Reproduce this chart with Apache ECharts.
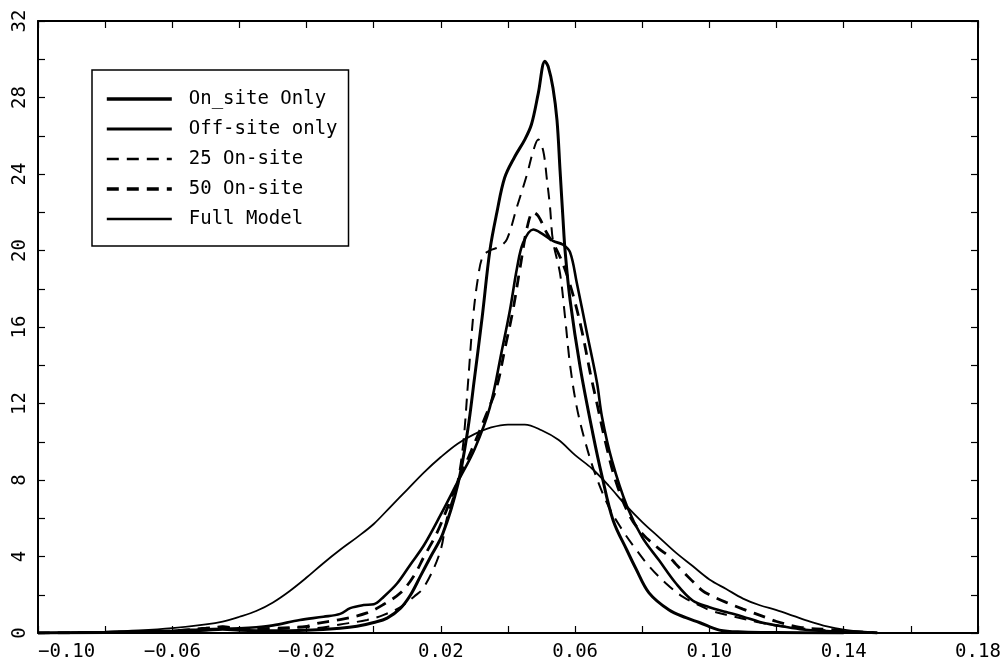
<!DOCTYPE html>
<html>
<head>
<meta charset="utf-8">
<script src="https://cdn.jsdelivr.net/npm/echarts@6/dist/echarts.min.js"></script>
<style>
html,body{margin:0;padding:0;background:#fff;}
#chart{width:1007px;height:672px;}
</style>
</head>
<body>
<div id="chart"></div>
<script>
// ---- data (x, density) ----
const seriesNames = ["On_site Only", "Off-site only", "25 On-site", "50 On-site", "Full Model"];

const onSiteOnly = [
  [-0.10,0],[-0.08,0.02],[-0.06,0.08],[-0.05,0.15],[-0.045,0.2],[-0.04,0.15],[-0.03,0.12],[-0.02,0.15],
  [-0.01,0.25],[-0.005,0.35],[0.0,0.55],[0.004,0.78],[0.008,1.3],[0.011,2.0],[0.014,3.0],[0.017,4.0],
  [0.0206,5.2],[0.0251,7.8],[0.028,10.6],[0.030,13.3],[0.0323,16.5],[0.0346,20.0],[0.0367,22.0],
  [0.039,23.8],[0.042,24.9],[0.045,25.8],[0.047,26.6],[0.049,28.2],[0.051,29.9],[0.052,29.6],
  [0.0534,28.5],[0.0546,26.8],[0.0555,24.2],[0.0564,21.6],[0.057,20.0],[0.0585,17.4],[0.0615,13.9],
  [0.0653,10.4],[0.068,8.2],[0.0713,5.9],[0.0755,4.3],[0.078,3.4],[0.082,2.1],[0.088,1.2],[0.093,0.8],
  [0.097,0.55],[0.103,0.15],[0.11,0.05],[0.12,0.02],[0.14,0]
];

const offSiteOnly = [
  [-0.10,0],[-0.08,0.05],[-0.06,0.12],[-0.05,0.2],[-0.04,0.25],[-0.035,0.3],[-0.03,0.4],[-0.022,0.68],
  [-0.015,0.85],[-0.01,1.0],[-0.007,1.3],[-0.003,1.46],[0.0,1.5],[0.003,1.9],[0.007,2.6],[0.011,3.6],
  [0.015,4.6],[0.02,6.2],[0.025,7.9],[0.03,9.6],[0.0346,11.8],[0.0382,14.8],[0.0406,16.9],
  [0.0427,19.1],[0.0445,20.4],[0.0475,21.1],[0.050,20.9],[0.0534,20.5],[0.0564,20.3],[0.0585,19.9],
  [0.0605,18.3],[0.0635,15.7],[0.0665,13.1],[0.068,11.3],[0.071,9.0],[0.0755,6.6],[0.08,5.0],
  [0.085,3.8],[0.09,2.6],[0.095,1.7],[0.10,1.35],[0.105,1.1],[0.11,0.85],[0.115,0.58],[0.12,0.4],
  [0.127,0.2],[0.135,0.1],[0.145,0.05],[0.15,0]
];

const onSite25 = [
  [-0.10,0],[-0.08,0.03],[-0.06,0.1],[-0.05,0.2],[-0.045,0.35],[-0.04,0.25],[-0.03,0.2],[-0.02,0.3],
  [-0.017,0.26],[-0.01,0.45],[-0.002,0.68],[0.003,0.95],[0.008,1.36],[0.012,1.9],[0.015,2.4],
  [0.0197,4.2],[0.0218,6.0],[0.0248,7.8],[0.0266,9.8],[0.0281,13.1],[0.0296,16.5],[0.031,18.5],
  [0.0325,19.7],[0.0346,20.0],[0.0375,20.2],[0.0397,20.6],[0.0427,22.3],[0.0457,24.0],[0.0475,25.2],
  [0.049,25.8],[0.0505,25.2],[0.0516,23.7],[0.0525,22.3],[0.0534,20.5],[0.0555,18.8],[0.057,16.5],
  [0.0585,14.0],[0.0605,11.8],[0.063,10.0],[0.066,8.3],[0.07,6.6],[0.074,5.4],[0.078,4.4],[0.082,3.5],
  [0.087,2.6],[0.092,1.9],[0.097,1.45],[0.10,1.2],[0.105,0.95],[0.11,0.75],[0.115,0.55],[0.12,0.38],
  [0.13,0.2],[0.14,0.08],[0.148,0]
];

const onSite50 = [
  [-0.10,0],[-0.08,0.03],[-0.06,0.1],[-0.05,0.25],[-0.045,0.3],[-0.04,0.2],[-0.03,0.25],[-0.02,0.35],
  [-0.017,0.5],[-0.01,0.7],[-0.002,1.05],[0.003,1.5],[0.008,2.1],[0.012,3.0],[0.015,4.0],[0.019,5.3],
  [0.0248,7.8],[0.029,9.5],[0.0337,11.5],[0.0367,12.9],[0.039,14.8],[0.0415,16.9],[0.0436,19.1],
  [0.0457,21.2],[0.0475,22.0],[0.049,21.8],[0.0516,20.9],[0.0546,20.0],[0.057,19.0],[0.0595,17.6],
  [0.062,15.8],[0.0645,13.6],[0.0665,12.0],[0.069,10.0],[0.072,8.0],[0.076,6.2],[0.08,5.2],
  [0.085,4.4],[0.088,4.0],[0.09,3.6],[0.095,2.7],[0.098,2.2],[0.10,2.0],[0.105,1.6],[0.11,1.25],
  [0.117,0.8],[0.12,0.6],[0.127,0.3],[0.137,0.16],[0.145,0.05],[0.15,0]
];

const fullModel = [
  [-0.10,0],[-0.09,0.02],[-0.08,0.06],[-0.07,0.13],[-0.06,0.25],[-0.05,0.45],[-0.045,0.6],[-0.04,0.85],
  [-0.035,1.15],[-0.03,1.6],[-0.025,2.2],[-0.02,2.9],[-0.015,3.65],[-0.01,4.35],[-0.005,5.0],[0.0,5.7],
  [0.005,6.6],[0.01,7.5],[0.015,8.4],[0.02,9.2],[0.025,9.9],[0.03,10.4],[0.035,10.75],[0.04,10.9],
  [0.045,10.9],[0.05,10.6],[0.055,10.1],[0.06,9.3],[0.065,8.6],[0.07,7.7],[0.075,6.7],[0.08,5.8],
  [0.085,5.0],[0.09,4.2],[0.095,3.5],[0.10,2.8],[0.105,2.3],[0.11,1.8],[0.115,1.45],[0.12,1.2],
  [0.125,0.9],[0.13,0.6],[0.135,0.35],[0.14,0.18],[0.145,0.08],[0.15,0.02]
];

const xTickLabels = ["−0.10","−0.06","−0.02","0.02","0.06","0.10","0.14","0.18"];
const yTickLabels = ["0","4","8","12","16","20","24","28","32"];

// ---- chart ----
const FONT = "DejaVu Sans Mono";
const chart = echarts.init(document.getElementById('chart'), null, {renderer: 'canvas'});

function xLabel(v) {
  const k = Math.round((v + 0.10) / 0.02);
  if (k % 2 !== 0) return '';
  const s = (v < 0 ? '−' : '') + Math.abs(v).toFixed(2);
  return xTickLabels.indexOf(s) >= 0 ? s : '';
}
function yLabel(v) {
  const s = String(Math.round(v));
  return yTickLabels.indexOf(s) >= 0 ? s : '';
}

const axisCommon = {
  axisLine: {show: true, onZero: false, lineStyle: {color: '#000', width: 2}},
  axisTick: {show: true, inside: true, length: 7, lineStyle: {color: '#000', width: 1.2}},
  splitLine: {show: false}
};

const styles = [
  {width: 3, type: 'solid'},
  {width: 2.6, type: 'solid'},
  {width: 2, type: [12, 8]},
  {width: 2.8, type: [12, 8]},
  {width: 1.8, type: 'solid'}
];
const datasets = [onSiteOnly, offSiteOnly, onSite25, onSite50, fullModel];

chart.setOption({
  animation: false,
  backgroundColor: '#fff',
  grid: {left: 38, right: 29, top: 21, bottom: 39, containLabel: false},
  legend: {
    orient: 'vertical',
    left: 92, top: 70,
    data: seriesNames.map((n, i) => ({name: n, lineStyle: {width: styles[i].width + 0.6}})),
    itemWidth: 65, itemHeight: 14, itemGap: 10,
    padding: [19, 11, 17, 13],
    borderColor: '#000', borderWidth: 1.5,
    backgroundColor: '#fff',
    itemStyle: {opacity: 0},
    textStyle: {fontFamily: FONT, fontSize: 19, color: '#000', lineHeight: 20, padding: [0, 0, 0, 12]}
  },
  xAxis: [
    Object.assign({
      type: 'value', min: -0.10, max: 0.18, interval: 0.02, position: 'bottom',
      axisLabel: {show: true, formatter: xLabel, margin: 10, fontFamily: FONT, fontSize: 19, color: '#000',
                  alignMinLabel: 'left', showMinLabel: true, showMaxLabel: true}
    }, axisCommon),
    Object.assign({
      type: 'value', min: -0.10, max: 0.18, interval: 0.02, position: 'top',
      axisLabel: {show: false}
    }, axisCommon)
  ],
  yAxis: [
    Object.assign({
      type: 'value', min: 0, max: 32, interval: 2, position: 'left',
      axisLabel: {show: true, formatter: yLabel, rotate: 90, margin: 8, fontFamily: FONT, fontSize: 19, color: '#000',
                  showMinLabel: true, showMaxLabel: true}
    }, axisCommon),
    Object.assign({
      type: 'value', min: 0, max: 32, interval: 2, position: 'right',
      axisLabel: {show: false}
    }, axisCommon)
  ],
  series: seriesNames.map((name, i) => ({
    name: name,
    type: 'line',
    xAxisIndex: 0, yAxisIndex: 0,
    data: datasets[i],
    showSymbol: false,
    symbol: 'none',
    smooth: 0.35,
    lineStyle: {color: '#000', width: styles[i].width, type: styles[i].type},
    itemStyle: {color: '#000'},
    z: 2 + i
  }))
});
</script>
</body>
</html>
